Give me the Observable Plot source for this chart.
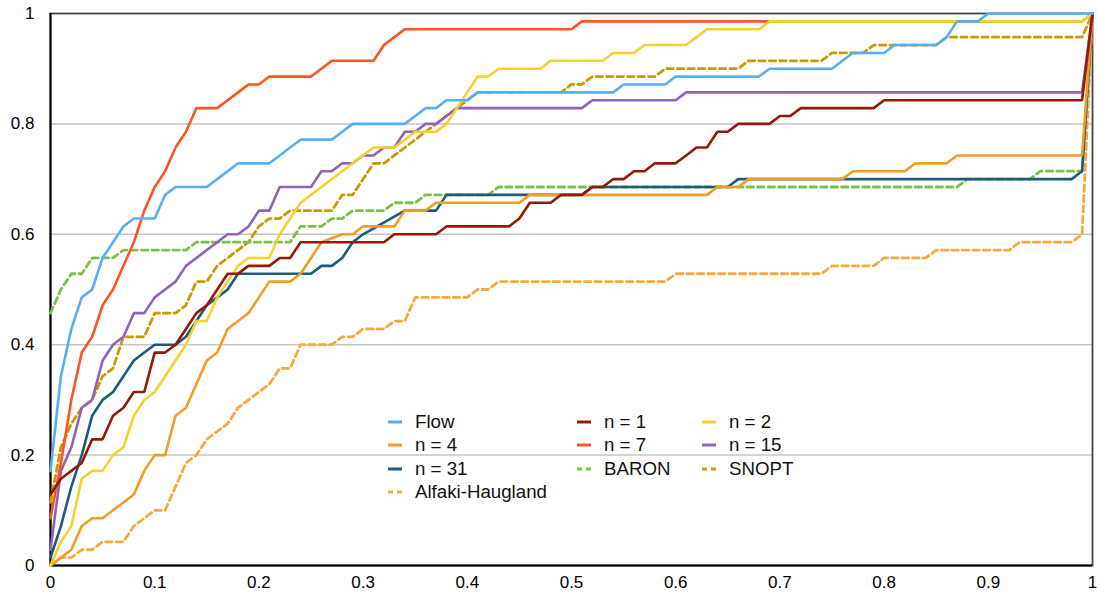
<!DOCTYPE html>
<html>
<head>
<meta charset="utf-8">
<script src="https://cdn.jsdelivr.net/npm/d3@7"></script>
<script src="https://cdn.jsdelivr.net/npm/@observablehq/plot@0.6"></script>
<style>
  body { margin: 0; background: #fff; }
  #wrap { position: relative; width: 1097px; height: 595px; font-family: 'Liberation Sans', Arial, sans-serif; }
  #legend { position: absolute; left: 0; top: 0; width: 1097px; height: 595px; pointer-events: none; }
  .item { position: absolute; height: 24px; display: flex; align-items: center; font-size: 18.7px; color: #111; white-space: nowrap; }
  .item svg { display: block; }
</style>
</head>
<body>
<div id="wrap"><div id="legend"></div></div>
<script>
// Performance profile: counts of solved instances out of TOTAL, read at breakpoints [x, count]
const TOTAL = 70;

const flow = [[0,12],[0.01,24],[0.02,30],[0.03,34],[0.04,35],[0.05,39],[0.06,41],[0.07,43],[0.08,44],[0.10,44],[0.11,47],[0.12,48],[0.15,48],[0.16,49],[0.17,50],[0.18,51],[0.21,51],[0.22,52],[0.23,53],[0.24,54],[0.27,54],[0.28,55],[0.29,56],[0.34,56],[0.35,57],[0.36,58],[0.37,58],[0.38,59],[0.40,59],[0.41,60],[0.54,60],[0.55,61],[0.59,61],[0.60,62],[0.68,62],[0.69,63],[0.75,63],[0.76,64],[0.77,65],[0.80,65],[0.81,66],[0.85,66],[0.86,67],[0.87,69],[0.89,69],[0.90,70],[1,70]];

const n1 = [[0,9],[0.01,11],[0.02,12],[0.03,13],[0.04,16],[0.05,16],[0.06,19],[0.07,20],[0.08,22],[0.09,22],[0.10,27],[0.11,27],[0.12,28],[0.13,30],[0.14,32],[0.15,33],[0.16,35],[0.17,37],[0.18,37],[0.19,38],[0.21,38],[0.22,39],[0.23,39],[0.24,41],[0.32,41],[0.33,42],[0.37,42],[0.38,43],[0.44,43],[0.45,44],[0.46,46],[0.48,46],[0.49,47],[0.51,47],[0.52,48],[0.53,48],[0.54,49],[0.55,49],[0.56,50],[0.57,50],[0.58,51],[0.60,51],[0.61,52],[0.62,53],[0.63,53],[0.64,55],[0.65,55],[0.66,56],[0.69,56],[0.70,57],[0.71,57],[0.72,58],[0.79,58],[0.80,59],[0.99,59],[1,70]];

const n2 = [[0,0],[0.01,3],[0.02,5],[0.03,11],[0.04,12],[0.05,12],[0.06,14],[0.07,15],[0.08,19],[0.09,21],[0.10,22],[0.11,24],[0.12,26],[0.13,28],[0.14,31],[0.15,31],[0.16,34],[0.17,36],[0.18,38],[0.19,39],[0.21,39],[0.22,42],[0.23,44],[0.24,46],[0.31,53],[0.33,53],[0.34,54],[0.35,55],[0.37,55],[0.38,56],[0.41,62],[0.42,62],[0.43,63],[0.47,63],[0.48,64],[0.53,64],[0.54,65],[0.56,65],[0.57,66],[0.61,66],[0.62,67],[0.63,68],[0.68,68],[0.69,69],[0.99,69],[1,70]];

const n4 = [[0,0],[0.01,1],[0.02,2],[0.03,5],[0.04,6],[0.05,6],[0.06,7],[0.07,8],[0.08,9],[0.09,12],[0.10,14],[0.11,14],[0.12,19],[0.13,20],[0.14,23],[0.15,26],[0.16,27],[0.17,30],[0.18,31],[0.19,32],[0.20,34],[0.21,36],[0.23,36],[0.24,37],[0.25,39],[0.26,41],[0.28,42],[0.29,42],[0.30,43],[0.33,43],[0.34,45],[0.36,45],[0.37,46],[0.45,46],[0.46,47],[0.63,47],[0.64,48],[0.66,48],[0.67,49],[0.76,49],[0.77,50],[0.82,50],[0.83,51],[0.86,51],[0.87,52],[0.99,52],[1,70]];

const n7 = [[0,6],[0.01,13],[0.02,21],[0.03,27],[0.04,29],[0.05,33],[0.06,35],[0.07,38],[0.08,41],[0.09,45],[0.10,48],[0.11,50],[0.12,53],[0.13,55],[0.14,58],[0.16,58],[0.17,59],[0.18,60],[0.19,61],[0.20,61],[0.21,62],[0.25,62],[0.26,63],[0.27,64],[0.31,64],[0.32,66],[0.33,67],[0.34,68],[0.50,68],[0.51,69],[0.99,69],[1,70]];

const n15 = [[0,2],[0.01,12],[0.02,15],[0.03,20],[0.04,21],[0.05,26],[0.06,28],[0.07,29],[0.08,32],[0.09,32],[0.10,34],[0.11,35],[0.12,36],[0.13,38],[0.14,39],[0.15,40],[0.16,41],[0.17,42],[0.18,42],[0.19,43],[0.20,45],[0.21,45],[0.22,48],[0.25,48],[0.26,50],[0.27,50],[0.28,51],[0.29,51],[0.30,52],[0.31,52],[0.32,53],[0.33,53],[0.34,55],[0.35,55],[0.36,56],[0.37,56],[0.38,57],[0.39,58],[0.51,58],[0.52,59],[0.60,59],[0.61,60],[0.99,60],[1,70]];

const n31 = [[0,1],[0.01,5],[0.02,10],[0.03,14],[0.04,19],[0.05,21],[0.06,22],[0.07,24],[0.08,26],[0.09,27],[0.10,28],[0.12,28],[0.13,29],[0.14,31],[0.15,33],[0.16,34],[0.17,35],[0.18,37],[0.25,37],[0.26,38],[0.27,38],[0.28,39],[0.29,41],[0.30,42],[0.34,45],[0.37,45],[0.38,47],[0.51,47],[0.52,48],[0.65,48],[0.66,49],[0.98,49],[0.99,50],[1,70]];

const baron = [[0,32],[0.01,35],[0.02,37],[0.03,37],[0.04,39],[0.06,39],[0.07,40],[0.13,40],[0.14,41],[0.23,41],[0.24,43],[0.26,43],[0.27,44],[0.28,44],[0.29,45],[0.32,45],[0.33,46],[0.35,46],[0.36,47],[0.42,47],[0.43,48],[0.87,48],[0.88,49],[0.94,49],[0.95,50],[0.99,50],[1,70]];

const snopt = [[0,8],[0.01,15],[0.02,18],[0.03,20],[0.04,21],[0.05,24],[0.06,25],[0.07,29],[0.09,29],[0.10,32],[0.12,32],[0.13,33],[0.14,36],[0.15,36],[0.16,38],[0.17,39],[0.18,40],[0.19,41],[0.20,43],[0.21,44],[0.22,44],[0.23,45],[0.27,45],[0.28,47],[0.29,47],[0.30,49],[0.31,51],[0.32,51],[0.33,52],[0.34,53],[0.35,54],[0.36,55],[0.37,56],[0.38,57],[0.39,58],[0.40,59],[0.41,60],[0.49,60],[0.50,61],[0.51,61],[0.52,62],[0.58,62],[0.59,63],[0.66,63],[0.67,64],[0.74,64],[0.75,65],[0.78,65],[0.79,66],[0.85,66],[0.86,67],[0.99,67],[1,70]];

const alfaki = [[0,0],[0.01,1],[0.02,1],[0.03,2],[0.04,2],[0.05,3],[0.07,3],[0.08,5],[0.09,6],[0.10,7],[0.11,7],[0.12,10],[0.13,13],[0.14,14],[0.15,16],[0.16,17],[0.17,18],[0.18,20],[0.19,21],[0.20,22],[0.21,23],[0.22,25],[0.23,25],[0.24,28],[0.27,28],[0.28,29],[0.29,29],[0.30,30],[0.32,30],[0.33,31],[0.34,31],[0.35,34],[0.40,34],[0.41,35],[0.42,35],[0.43,36],[0.59,36],[0.60,37],[0.74,37],[0.75,38],[0.79,38],[0.80,39],[0.84,39],[0.85,40],[0.92,40],[0.93,41],[0.98,41],[0.99,42],[1,70]];

const seriesNames  = ["Flow", "n = 1", "n = 2", "n = 4", "n = 7", "n = 15", "n = 31", "BARON", "SNOPT", "Alfaki-Haugland"];
const seriesPoints = [flow, n1, n2, n4, n7, n15, n31, baron, snopt, alfaki];
const seriesColors = ["#58aef5", "#931a08", "#f5d033", "#f39c25", "#ff5321", "#9062b8", "#1d5b7a", "#79c14a", "#c99a06", "#f7a844"];
const seriesDashed = [false, false, false, false, false, false, false, true, true, true];

const xTicks = [0, 0.1, 0.2, 0.3, 0.4, 0.5, 0.6, 0.7, 0.8, 0.9, 1];
const yTicks = [0, 0.2, 0.4, 0.6, 0.8, 1];
const gridY  = [0.2, 0.4, 0.6, 0.8];

const fmt = d => String(+d.toFixed(2));

const data = seriesNames.flatMap((name, i) =>
  seriesPoints[i].map(([x, c]) => ({ name, x, y: c / TOTAL })));

const lineMarks = [];
for (let i = seriesNames.length - 1; i >= 0; i--) {
  lineMarks.push(Plot.line(data.filter(d => d.name === seriesNames[i]), {
    x: "x", y: "y",
    stroke: seriesColors[i],
    strokeWidth: seriesDashed[i] ? 2.8 : 2.6,
    strokeDasharray: seriesDashed[i] ? "6.5,4" : null,
    strokeLinejoin: "miter"
  }));
}

const chart = Plot.plot({
  width: 1097,
  height: 595,
  marginLeft: 50,
  marginRight: 5,
  marginTop: 13,
  marginBottom: 30,
  x: { domain: [0, 1] },
  y: { domain: [0, 1] },
  style: { fontFamily: "'Liberation Sans', Arial, sans-serif", fontSize: "17px", color: "#000", background: "#fff" },
  marks: [
    Plot.ruleY(gridY, { stroke: "#c4c4c4", strokeWidth: 1.5 }),
    Plot.frame({ stroke: "#444", strokeWidth: 1.8 }),
    Plot.ruleX([0], { stroke: "#000", strokeWidth: 2 }),
    Plot.ruleY([0], { stroke: "#000", strokeWidth: 2 }),
    Plot.axisX({ ticks: xTicks, tickFormat: fmt, tickSize: 0, tickPadding: 10, label: null }),
    Plot.axisY({ ticks: yTicks, tickFormat: fmt, tickSize: 0, tickPadding: 16, label: null }),
    ...lineMarks
  ]
});
const wrap = document.getElementById("wrap");
wrap.insertBefore(chart, wrap.firstChild);

// Legend (3 columns, row-major order as in the original)
const legendCols = [388, 577, 702];
const legendTextGap = 27;
const legendRows = [421.5, 445, 468.5, 492];
const legend = document.getElementById("legend");
seriesNames.forEach((name, i) => {
  const row = Math.floor(i / 3), col = i % 3;
  const div = document.createElement("div");
  div.className = "item";
  div.style.left = legendCols[col] + "px";
  div.style.top = (legendRows[row] - 12) + "px";
  const dash = seriesDashed[i] ? 'stroke-dasharray="5,4"' : "";
  div.innerHTML = `<svg width="${legendTextGap}" height="6"><line x1="0" x2="14" y1="3" y2="3" stroke="${seriesColors[i]}" stroke-width="3" ${dash}/></svg><span>${name}</span>`;
  legend.appendChild(div);
});
</script>
</body>
</html>
